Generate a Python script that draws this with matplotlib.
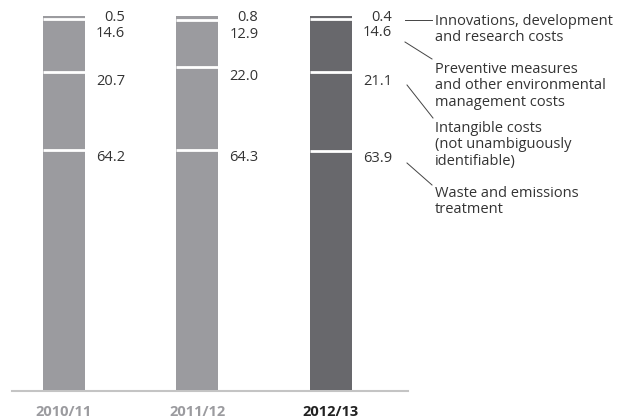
import matplotlib
matplotlib.use("Agg")
import matplotlib.pyplot as plt

years = ["2010/11", "2011/12", "2012/13"]
waste = [64.2, 64.3, 63.9]
intangible = [20.7, 22.0, 21.1]
preventive = [14.6, 12.9, 14.6]
innovation = [0.5, 0.8, 0.4]

legend_texts = [
    "Innovations, development\nand research costs",
    "Preventive measures\nand other environmental\nmanagement costs",
    "Intangible costs\n(not unambiguously\nidentifiable)",
    "Waste and emissions\ntreatment",
]

bar_colors = ["#9b9b9f", "#9b9b9f", "#68686c"]
year_colors = ["#9b9b9f", "#9b9b9f", "#222222"]
txt = "#333333"

plt.rcParams['font.family'] = ['Open Sans', 'DejaVu Sans']

fig = plt.figure(figsize=(6.18, 4.20), dpi=100)
# y: 0 -> 390 px, 100 -> 16 px ; x: bar 0 centre at 64 px, spacing 133.5 px
H = 374
ax = fig.add_axes([0, 30 / 420, 1, H / 420])
unit = 133.5
ax.set_xlim(-64 / unit, (618 - 64) / unit)
ax.set_ylim(0, 100)
ax.axis("off")

xs = list(range(len(years)))
w = 42 / unit
px = 100 / H  # data units per pixel
bottom = [0, 0, 0]
for seg in [waste, intangible, preventive, innovation]:
    ax.bar(xs, seg, w, bottom=bottom, color=bar_colors, edgecolor="none",
           zorder=3)
    bottom = [b + s for b, s in zip(bottom, seg)]

# white separators between the segments
for i in xs:
    b1 = waste[i]
    b2 = b1 + intangible[i]
    b3 = b2 + preventive[i]
    for yb in [b1, b2, b3 - 1.2 * px]:
        ax.plot([i - w / 2, i + w / 2], [yb, yb], color="white", lw=2,
                solid_capstyle="butt", zorder=4)

# base line
ax.plot([(12 - 64) / unit, (408 - 64) / unit], [-0.5 * px, -0.5 * px],
        color="#c4c4c4", lw=1.5, zorder=1, clip_on=False)

# value labels, right-aligned next to each bar
for i in xs:
    xr = i + w / 2 + 40 / unit
    b1 = waste[i]
    b2 = b1 + intangible[i]
    b3 = b2 + preventive[i]
    top = b3 + innovation[i]
    kw = dict(ha="right", va="center", fontsize=10.5, color=txt)
    ax.text(xr, top - 1.5 * px, f"{innovation[i]:.1f}", **kw)
    ax.text(xr, b3 - 15.5 * px, f"{preventive[i]:.1f}", **kw)
    ax.text(xr, b2 - 9 * px, f"{intangible[i]:.1f}", **kw)
    ax.text(xr, b1 - 7.5 * px, f"{waste[i]:.1f}", **kw)
    ax.text(i, -22 * px, years[i], ha="center", va="center", fontsize=10.5,
            fontweight="bold", color=year_colors[i], clip_on=False)


def pxy(x, y):
    return ((x - 64) / unit, (390 - y) * px)


# connectors and category texts
lines = [((405, 20), (432, 20)), ((405, 42), (432, 59)),
         ((407, 85), (433, 118)), ((407, 163), (432, 185))]
text_y = [20, 68, 127, 192]
for (p0, p1), t, ty in zip(lines, legend_texts, text_y):
    a, b = pxy(*p0), pxy(*p1)
    ax.plot([a[0], b[0]], [a[1], b[1]], color="#444444", lw=0.7)
    tx, tyd = pxy(435, ty - 6)
    ax.text(tx, tyd, t, ha="left", va="top", fontsize=10.5, color=txt,
            linespacing=1.12)

fig.savefig("out.png", dpi=100)
